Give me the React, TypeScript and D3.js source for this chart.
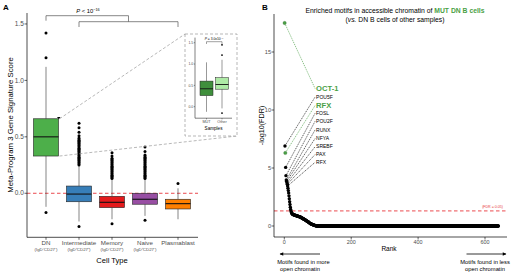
import React from "react";
import * as d3 from "d3";

// ---------- Panel A data ----------
const cellTypes = ["DN", "Intermediate", "Memory", "Naive", "Plasmablast"];
const cellSubs = ["(IgD⁻CD27⁻)", "(IgD⁺CD27⁺)", "(IgD⁻CD27⁺)", "(IgD⁺CD27⁻)", ""];
const cellColors = ["#4daf4a", "#377eb8", "#e41a1c", "#984ea3", "#ff7f00"];
const boxLow = [-0.12, -0.25, -0.23, -0.2, -0.23];
const boxQ1 = [0.33, -0.075, -0.127, -0.097, -0.139];
const boxMed = [0.5, -0.007, -0.08, -0.053, -0.092];
const boxQ3 = [0.66, 0.064, -0.027, 0.0, -0.053];
const boxHigh = [1.12, 0.24, 0.12, 0.12, 0.044];
const dnOut = [1.42, 1.2, -0.17];
const intOut = [0.62, 0.58, 0.54, 0.51, 0.49, 0.48, 0.47, 0.46, 0.45, 0.44, 0.43, 0.42, 0.41, 0.4, 0.39, 0.38, 0.37, 0.36, 0.35, 0.34, 0.33, 0.32, 0.31, 0.3, 0.29, 0.28, 0.27, 0.26, 0.25, -0.295];
const memOut = [0.36, 0.33, 0.31, 0.3, 0.29, 0.28, 0.27, 0.26, 0.25, 0.24, 0.23, 0.22, 0.21, 0.2, 0.19, 0.18, 0.17, 0.16, 0.15, 0.14, 0.13, -0.27];
const naiveOut = [0.41, 0.37, 0.34, 0.33, 0.32, 0.31, 0.3, 0.29, 0.28, 0.27, 0.26, 0.25, 0.24, 0.23, 0.22, 0.21, 0.2, 0.19, 0.18, 0.17, 0.16, 0.15, 0.14, 0.13, -0.24];
const plasOut = [0.086];
const outliersA = [dnOut, intOut, memOut, naiveOut, plasOut];
const yTicksA = [0.0, 0.5, 1.0, 1.5];

// ---------- Inset data ----------
const samples = ["MUT", "Other"];
const sampleColors = ["#3f8f3c", "#aeeaa6"];
const inLow = [-0.12, -0.04];
const inQ1 = [0.26, 0.41];
const inMed = [0.42, 0.52];
const inQ3 = [0.6, 0.68];
const inHigh = [1.04, 1.1];
const inOut = [[], [1.45, 1.21, -0.15]];
const yTicksIn = [0.0, 0.5, 1.0, 1.5];

// ---------- Panel B data ----------
const motifTop = [17.5, 6.9, 6.3, 5.05, 4.34, 3.97, 3.85, 3.72, 3.6, 3.45, 3.25, 3.05, 2.85, 2.6, 2.35, 2.1, 1.85, 1.62, 1.42, 1.3,
  1.2, 1.13, 1.08, 1.04, 1.01, 0.99, 0.98, 0.97, 0.96, 0.95, 0.94, 0.93, 0.92, 0.91, 0.9, 0.89, 0.88, 0.87, 0.86, 0.85,
  0.84, 0.83, 0.82, 0.81, 0.8, 0.79, 0.785, 0.78, 0.76, 0.74, 0.72, 0.7, 0.69, 0.67, 0.65, 0.63, 0.62, 0.6, 0.58, 0.57,
  0.55, 0.53, 0.52, 0.5, 0.48, 0.46, 0.44, 0.42, 0.4, 0.38, 0.36, 0.34, 0.32, 0.29, 0.27, 0.25, 0.23, 0.21, 0.2, 0.18,
  0.17, 0.15, 0.14, 0.13, 0.12, 0.1, 0.09, 0.08, 0.07, 0.06, 0.05, 0.04, 0.03, 0.025, 0.02, 0.01, 0.005, 0];
const motifZeroCount = 542; // remaining motifs with -log10(FDR) = 0
const greenRanks = [1, 3];
const labelNames = ["OCT-1", "POU5F", "RFX", "FOSL", "POU2F", "RUNX", "NFYA", "SREBF", "PAX", "RFX"];
const labelRanks = [1, 2, 3, 4, 5, 6, 7, 8, 9, 10];
const labelY = [11.85, 11.12, 10.39, 9.72, 9.03, 8.28, 7.54, 6.84, 6.16, 5.49];
const labelGreen = [true, false, true, false, false, false, false, false, false, false];
const labelRankX = 95;
const xTicksB = [0, 200, 400, 600];
const yTicksB = [0, 5, 10, 15];
const fdrLine = -Math.log10(0.05);

const FONT = "'Liberation Sans', Arial, Helvetica, sans-serif";
const GREEN = "#4a9f45";

export default function App() {
  const xA = d3.scalePoint<string>().domain(cellTypes).range([46, 178]);
  const yA = d3.scaleLinear().domain([-0.39, 1.59]).range([237.3, 13.8]);
  const bwA = 25;
  const xI = d3.scalePoint<string>().domain(samples).range([206.5, 222]);
  const yI = d3.scaleLinear().domain([-0.27, 1.62]).range([118.2, 37.6]);
  const bwI = 13;
  const xB = d3.scaleLinear().domain([0, 600]).range([284.3, 485]);
  const yB = d3.scaleLinear().domain([0, 15]).range([226, 52]);

  const motifVals: number[] = motifTop.concat(new Array(motifZeroCount).fill(0));

  const axisCol = "#000";
  const tickTxt = "#4d4d4d";
  const dnRight = xA("DN")! + bwA / 2;
  const inset = { x: 185, y: 34, w: 52, h: 102 };

  return (
    <svg width={520} height={279} style={{ position: "absolute", left: 0, top: 0, background: "#fff" }} fontFamily={FONT}>
      <rect x={0} y={0} width={520} height={279} fill="#fff" />
      {/* ================= Panel A ================= */}
      <text x={3} y={10} fontSize={8} fontWeight="bold">A</text>
      <line x1={27} x2={198} y1={yA(0)} y2={yA(0)} stroke="#e8363a" strokeWidth={0.9} strokeDasharray="3.5,2.5" />
      {cellTypes.map((c, i) => {
        const cx = xA(c)!;
        return (
          <g key={c}>
            <line x1={cx} x2={cx} y1={yA(boxHigh[i])} y2={yA(boxQ3[i])} stroke="#333" strokeWidth={0.6} />
            <line x1={cx} x2={cx} y1={yA(boxQ1[i])} y2={yA(boxLow[i])} stroke="#333" strokeWidth={0.6} />
            <rect x={cx - bwA / 2} y={yA(boxQ3[i])} width={bwA} height={yA(boxQ1[i]) - yA(boxQ3[i])}
              fill={cellColors[i]} stroke="#222" strokeWidth={0.6} />
            <line x1={cx - bwA / 2} x2={cx + bwA / 2} y1={yA(boxMed[i])} y2={yA(boxMed[i])} stroke="#111" strokeWidth={1.1} />
            {outliersA[i].map((v, j) => (
              <circle key={j} cx={cx} cy={yA(v)} r={1.5} fill="#000" />
            ))}
          </g>
        );
      })}
      {/* small zoom marker at DN box corner */}
      <path d={`M${dnRight - 1.5},${yA(boxQ3[0]) - 1.8} h3.6 l-1.8,2.2 z`} fill="#000" />
      <line x1={27} x2={27} y1={13} y2={237.3} stroke={axisCol} strokeWidth={0.7} />
      <line x1={27} x2={198} y1={237.3} y2={237.3} stroke={axisCol} strokeWidth={0.7} />
      {yTicksA.map((t) => (
        <g key={t}>
          <line x1={24.5} x2={27} y1={yA(t)} y2={yA(t)} stroke={axisCol} strokeWidth={0.6} />
          <text x={23.8} y={yA(t) + 2.2} fontSize={6.5} textAnchor="end" fill={tickTxt}>{t.toFixed(1)}</text>
        </g>
      ))}
      {cellTypes.map((c, i) => (
        <g key={c}>
          <line x1={xA(c)} x2={xA(c)} y1={237.3} y2={239.8} stroke={axisCol} strokeWidth={0.6} />
          <text x={xA(c)} y={244.5} fontSize={6.2} textAnchor="middle" fill={tickTxt}>{c}</text>
          {cellSubs[i] && <text x={xA(c)} y={250.5} fontSize={4.4} textAnchor="middle" fill={tickTxt}>{cellSubs[i]}</text>}
        </g>
      ))}
      <text x={112} y={263} fontSize={7.6} textAnchor="middle" fill="#000">Cell Type</text>
      <text transform={`translate(12.5,${(13 + 237) / 2}) rotate(-90)`} fontSize={7.8} textAnchor="middle" fill="#000">
        Meta-Program 3 Gene Signature Score
      </text>
      <path d={`M${xA("DN")},20.7 V15.7 H128.5 V21.7`} fill="none" stroke="#555" strokeWidth={0.7} />
      <path d={`M${xA("Intermediate")},27 V21.7 H${xA("Plasmablast")} V27`} fill="none" stroke="#555" strokeWidth={0.7} />
      <text x={88} y={12.8} fontSize={5.8} textAnchor="middle" fill="#000">
        <tspan fontStyle="italic">P</tspan> {"< 10"}<tspan fontSize={3.8} dy={-2.2}>−16</tspan>
      </text>

      <line x1={dnRight + 1} y1={yA(boxQ3[0])} x2={inset.x} y2={inset.y} stroke="#9a9a9a" strokeWidth={0.7} strokeDasharray="3,2" />
      <line x1={dnRight + 1} y1={yA(boxQ1[0])} x2={inset.x + inset.w} y2={inset.y + inset.h} stroke="#9a9a9a" strokeWidth={0.7} strokeDasharray="3,2" />
      <rect x={inset.x} y={inset.y} width={inset.w} height={inset.h} fill="#fff" stroke="#9a9a9a" strokeWidth={0.7} strokeDasharray="3,2" />
      {samples.map((s, i) => {
        const cx = xI(s)!;
        return (
          <g key={s}>
            <line x1={cx} x2={cx} y1={yI(inHigh[i])} y2={yI(inQ3[i])} stroke="#333" strokeWidth={0.5} />
            <line x1={cx} x2={cx} y1={yI(inQ1[i])} y2={yI(inLow[i])} stroke="#333" strokeWidth={0.5} />
            <rect x={cx - bwI / 2} y={yI(inQ3[i])} width={bwI} height={yI(inQ1[i]) - yI(inQ3[i])}
              fill={sampleColors[i]} stroke="#222" strokeWidth={0.5} />
            <line x1={cx - bwI / 2} x2={cx + bwI / 2} y1={yI(inMed[i])} y2={yI(inMed[i])} stroke="#111" strokeWidth={0.9} />
            {inOut[i].map((v, j) => (
              <circle key={j} cx={cx} cy={yI(v)} r={0.9} fill="#000" />
            ))}
          </g>
        );
      })}
      <line x1={195} x2={195} y1={37.6} y2={118.2} stroke={axisCol} strokeWidth={0.5} />
      <line x1={195} x2={232} y1={118.2} y2={118.2} stroke={axisCol} strokeWidth={0.5} />
      {yTicksIn.map((t) => (
        <g key={t}>
          <line x1={193.8} x2={195} y1={yI(t)} y2={yI(t)} stroke={axisCol} strokeWidth={0.4} />
          <text x={193.3} y={yI(t) + 1.2} fontSize={3.5} textAnchor="end" fill={tickTxt}>{t.toFixed(1)}</text>
        </g>
      ))}
      {samples.map((s) => (
        <g key={s}>
          <line x1={xI(s)} x2={xI(s)} y1={118.2} y2={119.4} stroke={axisCol} strokeWidth={0.4} />
          <text x={xI(s)} y={123.3} fontSize={3.8} textAnchor="middle" fill={tickTxt}>{s}</text>
        </g>
      ))}
      <text x={213.5} y={129.5} fontSize={4.6} textAnchor="middle" fill="#000">Samples</text>
      <path d={`M${xI("MUT")},44 V41.7 H${xI("Other")} V44`} fill="none" stroke="#444" strokeWidth={0.5} />
      <text x={214} y={40} fontSize={3.3} textAnchor="middle" fill="#000">
        <tspan fontStyle="italic">P</tspan> = 3.0x10<tspan fontSize={2.3} dy={-1.3}>−4</tspan>
      </text>

      {/* ================= Panel B ================= */}
      <text x={262} y={10} fontSize={8} fontWeight="bold">B</text>
      <text x={395} y={13} fontSize={6.8} textAnchor="middle" fill="#000">
        Enriched motifs in accessible chromatin of <tspan fill={GREEN} fontWeight="bold">MUT DN B cells</tspan>
      </text>
      <text x={395} y={22} fontSize={6.8} textAnchor="middle" fill="#000">
        (<tspan fontStyle="italic">vs.</tspan> DN B cells of other samples)
      </text>
      <line x1={274} x2={507} y1={yB(fdrLine)} y2={yB(fdrLine)} stroke="#e8363a" strokeWidth={0.9} strokeDasharray="3.5,2.5" />
      <text x={503} y={207.5} fontSize={3.6} textAnchor="end" fill="#e8363a">(FDR = 0.05)</text>
      {labelNames.map((n, i) => {
        const r = labelRanks[i];
        return (
          <line key={"seg" + i} x1={xB(r)} y1={yB(motifVals[r - 1])} x2={xB(labelRankX) - 1} y2={yB(labelY[i])}
            stroke={labelGreen[i] ? GREEN : "#000"} strokeWidth={0.65} strokeDasharray="1.2,0.9" />
        );
      })}
      {motifVals.map((v, i) => {
        const rank = i + 1;
        return greenRanks.includes(rank) ? null : <circle key={i} cx={xB(rank)} cy={yB(v)} r={1.7} fill="#000" />;
      })}
      {greenRanks.map((r) => (
        <circle key={"g" + r} cx={xB(r)} cy={yB(motifVals[r - 1])} r={1.7} fill={GREEN} stroke="#2e6b2b" strokeWidth={0.3} />
      ))}
      {labelNames.map((n, i) => (
        <text key={"lab" + i} x={xB(labelRankX)} y={yB(labelY[i]) + (labelGreen[i] ? 2.7 : 1.8)}
          fontSize={labelGreen[i] ? 7.6 : 5.0} fontWeight={labelGreen[i] ? "bold" : "normal"}
          fill={labelGreen[i] ? GREEN : "#000"}>{n}</text>
      ))}
      <line x1={274} x2={274} y1={14} y2={237} stroke={axisCol} strokeWidth={0.7} />
      <line x1={274} x2={507} y1={237} y2={237} stroke={axisCol} strokeWidth={0.7} />
      {yTicksB.map((t) => (
        <g key={t}>
          <line x1={271.5} x2={274} y1={yB(t)} y2={yB(t)} stroke={axisCol} strokeWidth={0.6} />
          <text x={271} y={yB(t) + 2} fontSize={5.6} textAnchor="end" fill={tickTxt}>{t}</text>
        </g>
      ))}
      {xTicksB.map((t) => (
        <g key={t}>
          <line x1={xB(t)} x2={xB(t)} y1={237} y2={239.5} stroke={axisCol} strokeWidth={0.6} />
          <text x={xB(t)} y={244} fontSize={5.4} textAnchor="middle" fill={tickTxt}>{t}</text>
        </g>
      ))}
      <text x={389} y={250.5} fontSize={6.5} textAnchor="middle" fill="#000">Rank</text>
      <text transform={`translate(263.5,${(14 + 237) / 2}) rotate(-90)`} fontSize={7.2} textAnchor="middle" fill="#000">
        -log10(FDR)
      </text>
      <defs>
        <marker id="arr" viewBox="0 0 10 10" refX="9" refY="5" markerUnits="userSpaceOnUse" markerWidth="4.5" markerHeight="3.6" orient="auto-start-reverse">
          <path d="M0,0 L10,5 L0,10 z" fill="#000" />
        </marker>
      </defs>
      <line x1={320} y1={254} x2={280} y2={254} stroke="#000" strokeWidth={0.8} markerEnd="url(#arr)" />
      <line x1={466.5} y1={254} x2={506} y2={254} stroke="#000" strokeWidth={0.8} markerEnd="url(#arr)" />
      <text x={303.5} y={263.8} fontSize={5.8} textAnchor="middle" fill="#000">Motifs found in more</text>
      <text x={300} y={271.3} fontSize={5.8} textAnchor="middle" fill="#000">open chromatin</text>
      <text x={485} y={263.8} fontSize={5.8} textAnchor="middle" fill="#000">Motifs found in less</text>
      <text x={485} y={271.3} fontSize={5.8} textAnchor="middle" fill="#000">open chromatin</text>
    </svg>
  );
}
